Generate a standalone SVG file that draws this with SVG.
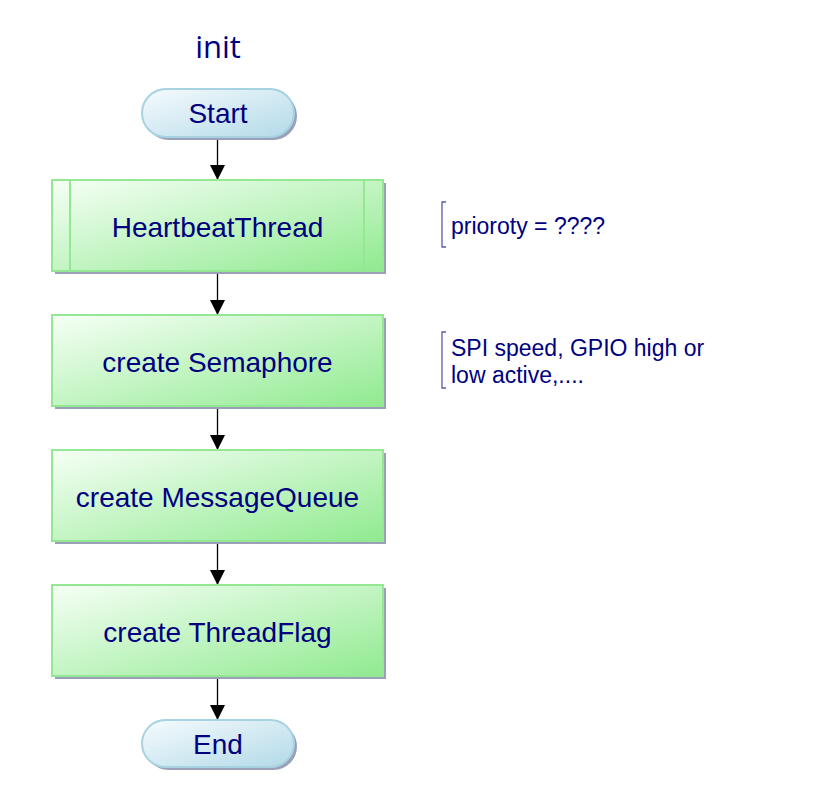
<svg xmlns="http://www.w3.org/2000/svg" width="825" height="810" viewBox="0 0 825 810">
<style>
.lbl{font-family:"Liberation Sans",Arial,sans-serif;font-size:28px;fill:#000080;text-anchor:middle}
.note{font-family:"Liberation Sans",Arial,sans-serif;font-size:23px;fill:#000080}
.title{font-family:"Open Sans","Noto Sans",sans-serif;font-size:31px;fill:#000080;text-anchor:middle}
.box{fill:url(#gGreen);stroke:#94e894;stroke-width:2}
.pill{fill:url(#gBlue);stroke:#a6d2e2;stroke-width:2}
.shadow{fill:#9aa0b8}
.conn{stroke:#000;stroke-width:1.3;fill:none;marker-end:url(#arr)}
.brk{stroke:#5a5aa8;stroke-width:1.3;fill:none}
.inner{stroke:#94e894;stroke-width:2}
</style>
<defs>
<linearGradient id="gGreen" x1="0" y1="0" x2="1" y2="1">
<stop offset="0" stop-color="#f6fff6"/>
<stop offset="1" stop-color="#90ea90"/>
</linearGradient>
<linearGradient id="gBlue" x1="0" y1="0" x2="1" y2="1">
<stop offset="0" stop-color="#f6fbfd"/>
<stop offset="1" stop-color="#b2dae8"/>
</linearGradient>
<marker id="arr" markerWidth="15" markerHeight="15" viewBox="0 0 15 15" refX="15" refY="7.5" orient="auto" markerUnits="userSpaceOnUse">
<path d="M0,0 L15,7.5 L0,15 Z" fill="#000"/>
</marker>
</defs>
<rect width="825" height="810" fill="#fff"/>
<text class="title" x="218" y="58">init</text>
<g id="connectors">
<line class="conn" x1="217.5" y1="138" x2="217.5" y2="180"/>
<line class="conn" x1="217.5" y1="272" x2="217.5" y2="315"/>
<line class="conn" x1="217.5" y1="407" x2="217.5" y2="450"/>
<line class="conn" x1="217.5" y1="542" x2="217.5" y2="585"/>
<line class="conn" x1="217.5" y1="677" x2="217.5" y2="720"/>
</g>
<g id="start">
<rect class="shadow" x="145" y="92" width="152" height="48" rx="24"/>
<rect class="pill" x="142" y="89" width="152" height="48" rx="24"/>
<text class="lbl" x="218" y="123">Start</text>
</g>
<g id="heartbeat">
<rect class="shadow" x="55" y="183" width="331" height="91"/>
<rect class="box" x="52" y="180" width="331" height="91"/>
<line class="inner" x1="70" y1="181" x2="70" y2="270"/>
<line class="inner" x1="364" y1="181" x2="364" y2="270"/>
<text class="lbl" x="217.5" y="237">HeartbeatThread</text>
</g>
<g id="semaphore">
<rect class="shadow" x="55" y="318" width="331" height="91"/>
<rect class="box" x="52" y="315" width="331" height="91"/>
<text class="lbl" x="217.5" y="372">create Semaphore</text>
</g>
<g id="queue">
<rect class="shadow" x="55" y="453" width="331" height="91"/>
<rect class="box" x="52" y="450" width="331" height="91"/>
<text class="lbl" x="217.5" y="507">create MessageQueue</text>
</g>
<g id="flag">
<rect class="shadow" x="55" y="588" width="331" height="91"/>
<rect class="box" x="52" y="585" width="331" height="91"/>
<text class="lbl" x="217.5" y="642">create ThreadFlag</text>
</g>
<g id="end">
<rect class="shadow" x="145" y="723" width="152" height="47" rx="23.5"/>
<rect class="pill" x="142" y="720" width="152" height="47" rx="23.5"/>
<text class="lbl" x="218" y="754">End</text>
</g>
<g id="note1">
<path class="brk" d="M446,202 H442 V247 H446"/>
<text class="note" x="451" y="234">prioroty = ????</text>
</g>
<g id="note2">
<path class="brk" d="M446,332 H442 V388 H446"/>
<text class="note" x="451" y="356">SPI speed, GPIO high or</text>
<text class="note" x="451" y="383">low active,....</text>
</g>
</svg>
